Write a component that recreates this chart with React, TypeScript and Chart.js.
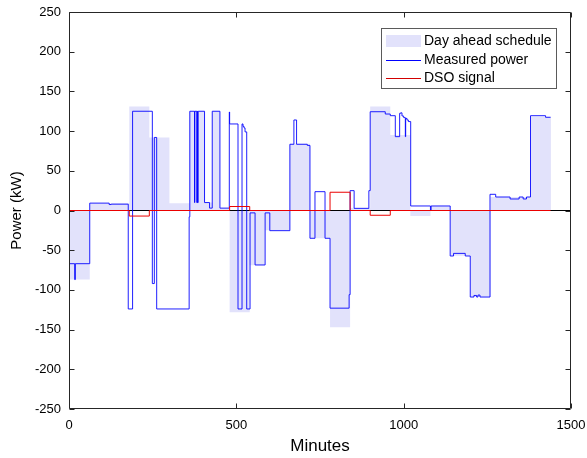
import React, { useEffect, useRef } from "react";
import { Chart, registerables } from "chart.js";

Chart.register(...registerables);

// ---- data (minutes, kW) ----
const measuredTimes = [
  0, 17, 19, 62, 120, 126, 177, 190, 249, 255,
  262, 359, 361, 375, 376, 382, 383, 384, 386, 405,
  420, 428, 451, 479, 480, 505, 517, 520, 523, 526,
  531, 541, 556, 586, 600, 660, 672, 680, 712, 720,
  735, 765, 780, 837, 840, 852, 896, 900, 945, 960,
  975, 988, 991, 995, 1000, 1005, 1006, 1010, 1014, 1021,
  1080, 1082, 1139, 1149, 1184, 1199, 1210, 1218, 1222, 1228,
  1258, 1275, 1318, 1345, 1357, 1367, 1379, 1424, 1439,
];
const measuredPower = [
  -67, -87, -67, 9.3, 7.5, 8, -124, 125, -92, 92,
  -124, -8, 125, 10, 125, 10, 125, 10, 125, 10,
  3, 125, 3, 124, 109, -124, 109, 106, 104, 99,
  -124, -3, -68.6, -3, -25.4, 83.4, 114, 83.4, 82, -35,
  23.7, -35, -123, -106, 25, 2.7, 25, 124.4, 121.5, 119.4,
  93, 122.4, 123, 119, 117, 93, 116, 114, 112, 5.7,
  0.6, 5.7, -57.3, -54, -57.3, -109, -107, -109, -106.5, -109,
  20.4, 17, 14.5, 17, 14.5, 17, 119.4, 117.4, 117.4,
];

const scheduleTimes = [
  0, 62, 180, 240, 300, 360, 405, 428, 451, 480,
  540, 585, 660, 720, 780, 840, 900, 960, 1020, 1080,
  1140, 1200, 1260, 1380, 1440,
];
const schedulePower = [
  -87, 9, 131, 92, 9, 125, 10, 125, 3, -128,
  -69, -25, 84, -35, -147, 3, 131, 95, -7, 5.7,
  -57, -109, 17, 118, 118,
];

const dsoTimes = [0, 180, 240, 480, 540, 780, 840, 900, 960, 1439];
const dsoSignal = [0, -7, 0, 5, 0, 23, 0, -6, 0, 0];

const zeroTimes = [0, 1500];
const zeroValues = [0, 0];

const xTicks = [0, 500, 1000, 1500];
const yTicks = [-250, -200, -150, -100, -50, 0, 50, 100, 150, 200, 250];

const legendLabels = ["Day ahead schedule", "Measured power", "DSO signal"];

const FONT = "'Liberation Sans', Arial, Helvetica, sans-serif";
const SCHEDULE_FILL = "rgb(226,226,251)";
const MEASURED_COLOR = "rgba(0,0,255,0.88)";
const DSO_COLOR = "rgb(235,0,0)";
const AXIS_COLOR = "#262626";

const zip = (t: number[], v: number[]) => t.map((x, i) => ({ x, y: v[i] }));

const framePlugin = {
  id: "frameAndLegend",
  afterDatasetsDraw(chart: any) {
    const { ctx, chartArea: a, scales } = chart;
    ctx.save();
    const L = Math.round(a.left) + 0.5;
    const R = Math.round(a.right) - 0.5;
    const T = Math.round(a.top) + 0.5;
    const B = Math.round(a.bottom) - 0.5;
    ctx.strokeStyle = AXIS_COLOR;
    ctx.lineWidth = 1;
    ctx.beginPath();
    ctx.rect(L, T, R - L, B - T);
    const tl = 5;
    yTicks.forEach((v) => {
      const py = Math.round(scales.y.getPixelForValue(v)) + 0.5;
      ctx.moveTo(L, py);
      ctx.lineTo(L + tl, py);
      ctx.moveTo(R, py);
      ctx.lineTo(R - tl, py);
    });
    xTicks.forEach((v) => {
      const px = Math.round(scales.x.getPixelForValue(v)) + 0.5;
      ctx.moveTo(px, B);
      ctx.lineTo(px, B - tl);
      ctx.moveTo(px, T);
      ctx.lineTo(px, T + tl);
    });
    ctx.stroke();

    // legend
    const bx = 381.5, by = 28.5, bw = 175, bh = 60;
    ctx.fillStyle = "#fff";
    ctx.fillRect(bx, by, bw, bh);
    ctx.strokeStyle = "#5a5a5a";
    ctx.strokeRect(bx, by, bw, bh);
    const rows = [41, 59.5, 78];
    const sx0 = 386, sx1 = 421;
    ctx.fillStyle = SCHEDULE_FILL;
    ctx.fillRect(sx0, rows[0] - 6, sx1 - sx0, 12);
    ctx.strokeStyle = "rgb(0,0,255)";
    ctx.beginPath();
    ctx.moveTo(sx0, Math.round(rows[1]) + 0.5);
    ctx.lineTo(sx1, Math.round(rows[1]) + 0.5);
    ctx.stroke();
    ctx.strokeStyle = "rgb(210,0,0)";
    ctx.beginPath();
    ctx.moveTo(sx0, Math.round(rows[2]) + 0.5);
    ctx.lineTo(sx1, Math.round(rows[2]) + 0.5);
    ctx.stroke();
    ctx.fillStyle = "#000";
    ctx.font = `14px ${FONT}`;
    ctx.textBaseline = "middle";
    ctx.textAlign = "left";
    legendLabels.forEach((t, i) => ctx.fillText(t, 424, rows[i] + 0.5));
    ctx.restore();
  },
};

export default function App() {
  const ref = useRef<HTMLCanvasElement | null>(null);
  useEffect(() => {
    document.body.style.margin = "0";
    const canvas = ref.current!;
    const chart = new Chart(canvas, {
      type: "line",
      data: {
        datasets: [
          {
            label: legendLabels[0],
            data: zip(scheduleTimes, schedulePower),
            stepped: true,
            fill: "origin",
            backgroundColor: SCHEDULE_FILL,
            borderColor: "rgba(0,0,0,0)",
            borderWidth: 0,
            pointRadius: 0,
            order: 4,
          },
          {
            label: "zero",
            data: zip(zeroTimes, zeroValues),
            borderColor: "#000",
            borderWidth: 1,
            pointRadius: 0,
            fill: false,
            order: 3,
          },
          {
            label: legendLabels[1],
            data: zip(measuredTimes, measuredPower),
            stepped: true,
            borderColor: MEASURED_COLOR,
            borderWidth: 1,
            pointRadius: 0,
            fill: false,
            order: 2,
          },
          {
            label: legendLabels[2],
            data: zip(dsoTimes, dsoSignal),
            stepped: true,
            borderColor: DSO_COLOR,
            borderWidth: 1,
            pointRadius: 0,
            fill: false,
            order: 1,
          },
        ],
      },
      options: {
        animation: false,
        responsive: false,
        devicePixelRatio: 1,
        layout: { padding: { top: 12, right: 16, left: 0, bottom: 0 } },
        plugins: { legend: { display: false }, tooltip: { enabled: false } },
        scales: {
          x: {
            type: "linear",
            min: 0,
            max: 1500,
            afterBuildTicks: (s: any) => {
              s.ticks = xTicks.map((v) => ({ value: v }));
            },
            afterFit: (s: any) => {
              s.height = 49;
              s.paddingLeft = 0;
              s.paddingRight = 0;
            },
            grid: { display: false, drawTicks: false },
            border: { display: false },
            ticks: {
              color: "#000",
              font: { family: FONT, size: 13 },
              padding: 9,
              maxRotation: 0,
              autoSkip: false,
              callback: (v: any) => String(v),
            },
            title: {
              display: true,
              text: "Minutes",
              color: "#000",
              font: { family: FONT, size: 17 },
              padding: { top: 0, bottom: 1 },
            },
          },
          y: {
            type: "linear",
            min: -250,
            max: 250,
            afterBuildTicks: (s: any) => {
              s.ticks = yTicks.map((v) => ({ value: v }));
            },
            afterFit: (s: any) => {
              s.width = 69;
              s.paddingTop = 0;
              s.paddingBottom = 0;
            },
            grid: { display: false, drawTicks: false },
            border: { display: false },
            ticks: {
              color: "#000",
              font: { family: FONT, size: 13 },
              padding: 8,
              autoSkip: false,
              callback: (v: any) => String(v),
            },
            title: {
              display: true,
              text: "Power (kW)",
              color: "#000",
              font: { family: FONT, size: 15 },
              padding: { top: 8, bottom: 0 },
            },
          },
        },
      },
      plugins: [framePlugin],
    });
    return () => chart.destroy();
  }, []);
  return <canvas ref={ref} width={587} height={458} style={{ display: "block", width: 587, height: 458 }} />;
}
